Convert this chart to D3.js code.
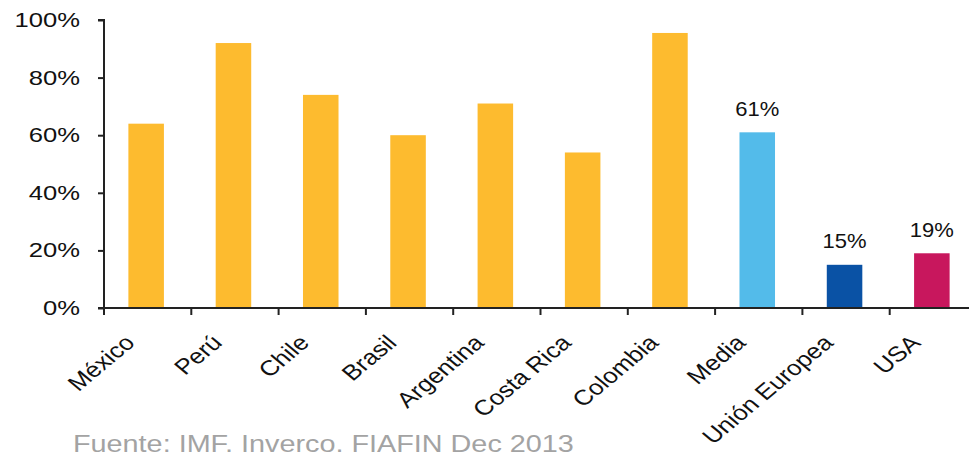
<!DOCTYPE html>
<html>
<head>
<meta charset="utf-8">
<script src="https://cdn.jsdelivr.net/npm/d3@7"></script>
<style>
  html, body { margin: 0; padding: 0; background: #fff; overflow: hidden; }
  svg { display: block; font-family: "Liberation Sans", Arial, sans-serif; }
</style>
</head>
<body>
<svg id="chart" width="969" height="452"></svg>
<script>
// Participación por país (%)
const categories = ["México", "Perú", "Chile", "Brasil", "Argentina", "Costa Rica", "Colombia", "Media", "Unión Europea", "USA"];
const values = [64, 92, 74, 60, 71, 54, 95.5, 61, 15, 19];
const barColors = ["#FDBB2F", "#FDBB2F", "#FDBB2F", "#FDBB2F", "#FDBB2F", "#FDBB2F", "#FDBB2F", "#53BBEA", "#0A52A5", "#C8175D"];
const labelled = ["Media", "Unión Europea", "USA"];
const yTicks = [0, 20, 40, 60, 80, 100];
const source = "Fuente: IMF, Inverco, FIAFIN Dec 2013";

const svg = d3.select("#chart");
const x0 = 104, x1 = 977, yBase = 308, yTop = 20;

const x = d3.scaleBand().domain(categories).range([x0, x1]).padding(0);
const y = d3.scaleLinear().domain([0, 100]).range([yBase, yTop]);
const barW = x.bandwidth() * 0.407;
const center = (d) => x(d) + x.bandwidth() / 2 - 1.5;

// Bars
svg.append("g").selectAll("rect")
  .data(categories)
  .join("rect")
  .attr("x", (d) => center(d) - barW / 2)
  .attr("width", barW)
  .attr("y", (d, i) => y(values[i]))
  .attr("height", (d, i) => yBase - y(values[i]))
  .attr("fill", (d, i) => barColors[i]);

// Value labels on the comparison bars
svg.append("g").selectAll("text")
  .data(categories.filter((c) => labelled.includes(c)))
  .join("text")
  .attr("transform", (d) => `translate(${center(d)},${y(values[categories.indexOf(d)]) - 16.5}) scale(1.1,1)`)
  .attr("text-anchor", "middle")
  .attr("font-size", 20)
  .attr("fill", "#111")
  .text((d) => d3.format(".0f")(values[categories.indexOf(d)]) + "%");

// Y axis
const yAxis = svg.append("g").attr("transform", `translate(${x0},0)`)
  .call(d3.axisLeft(y).tickValues(yTicks).tickSize(6).tickPadding(0).tickFormat((d) => d + "%"));
yAxis.select(".domain").attr("stroke", "#222").attr("stroke-width", 2).attr("d", `M-6,${yTop}H0V${yBase}`);
yAxis.selectAll(".tick line").attr("stroke", "#222").attr("stroke-width", 2);
yAxis.selectAll(".tick text")
  .attr("x", null)
  .attr("transform", "translate(-24,0) scale(1.28,1)")
  .attr("font-size", 20)
  .attr("fill", "#111")
  .attr("font-family", "Liberation Sans, Arial, sans-serif");

// X axis: tick marks sit on the band boundaries
const xAxis = svg.append("g").attr("transform", `translate(0,${yBase})`);
xAxis.append("line")
  .attr("x1", x0 - 6).attr("x2", 969)
  .attr("stroke", "#222").attr("stroke-width", 2);
xAxis.selectAll("line.tk")
  .data(categories)
  .join("line")
  .attr("class", "tk")
  .attr("x1", (d) => x(d)).attr("x2", (d) => x(d))
  .attr("y1", 0).attr("y2", 7)
  .attr("stroke", "#222").attr("stroke-width", 2);

// Category labels: slanted, widened horizontally on screen
xAxis.selectAll("text")
  .data(categories)
  .join("text")
  .attr("transform", (d) => `translate(${center(d) - 10},${36}) scale(1.2,1) rotate(-45)`)
  .attr("text-anchor", "end")
  .attr("font-size", 21.5)
  .attr("fill", "#111")
  .text((d) => d);

// Source note
svg.append("text")
  .attr("transform", "translate(73,452) scale(1.2,1)")
  .attr("font-size", 24)
  .attr("fill", "#a3a3a3")
  .text(source);
</script>
</body>
</html>
